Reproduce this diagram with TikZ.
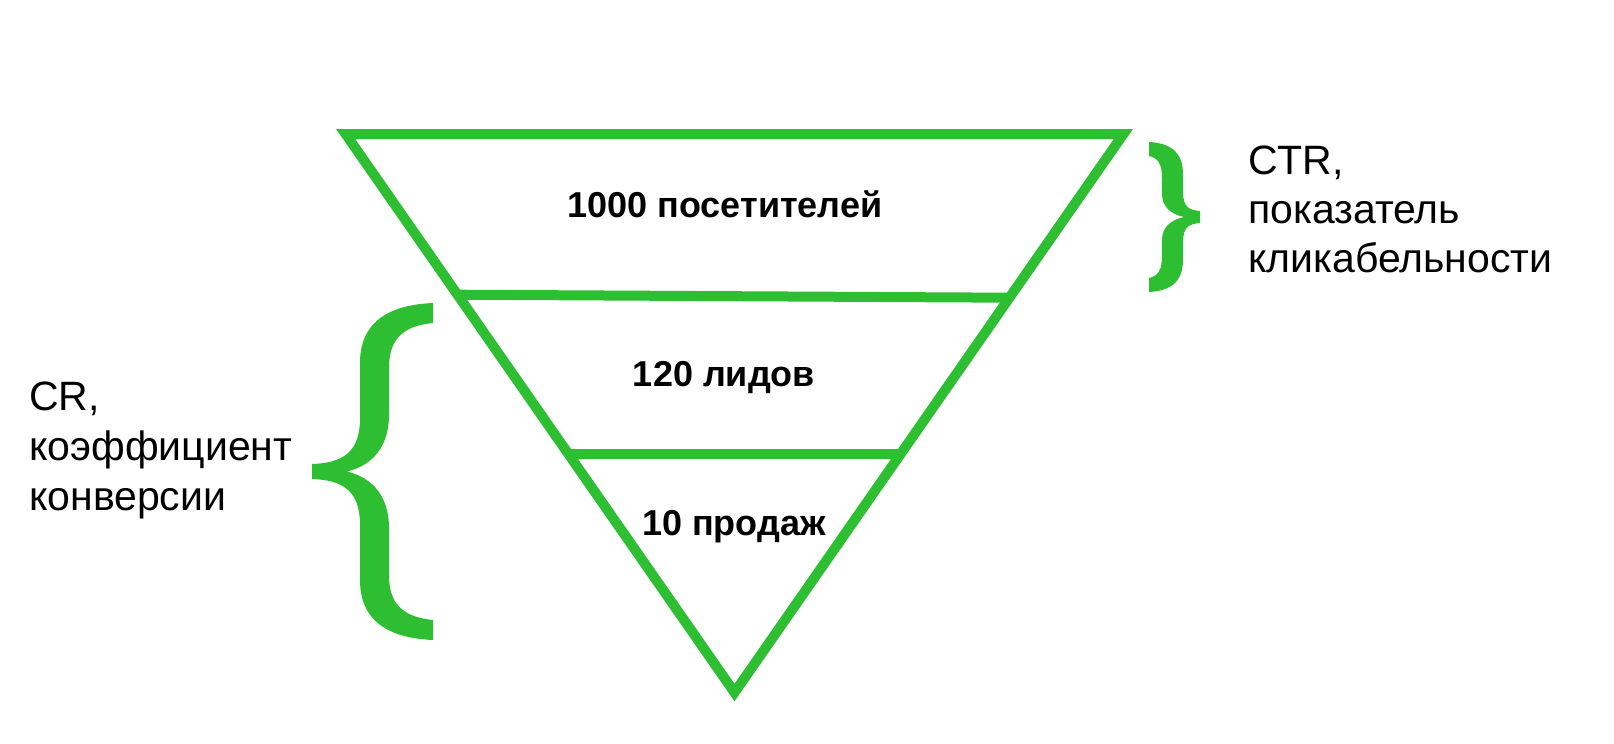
\documentclass[tikz,border=0pt]{standalone}
\usepackage{fontspec}
\setmainfont{Liberation Sans}
\definecolor{fgreen}{RGB}{45,190,50}
\tikzset{
  funnel/.style={draw=fgreen, line width=10pt, miter limit=20, line join=miter},
  divider/.style={draw=fgreen, line width=10pt},
  bracefill/.style={fill=fgreen, draw=none},
  stage/.style={inner sep=0pt, anchor=base, font=\bfseries\fontsize{36}{43}\selectfont},
  note/.style={inner sep=0pt, anchor=base west, font=\fontsize{41}{49}\selectfont}
}
\begin{document}
\begin{tikzpicture}[x=1pt,y=-1pt]
\useasboundingbox[fill=white] (0,0) rectangle (1614,744);
% funnel outline
\coordinate (tl) at (345.6,134);
\coordinate (tr) at (1123.4,134);
\coordinate (ap) at (734.5,692.5);
\draw[funnel] (tl) -- (tr) -- (ap) -- cycle;
% dividers
\coordinate (d1l) at (457.5,294.7);
\coordinate (d1r) at (1009.4,297.7);
\coordinate (d2l) at (568.4,454);
\coordinate (d2r) at (900.6,454);
\draw[divider] (d1l) -- (d1r);
\draw[divider] (d2l) -- (d2r);
% stage labels
\node[stage] (s1) at (725,217) {1000 посетителей};
\node[stage] (s2) at (724,386) {120 лидов};
\node[stage] (s3) at (734,535) {10 продаж};
% left brace
\begin{scope}[shift={(312,303)}]
\fill[bracefill] (121,0) .. controls (75,2) and (48,20) .. (48,60)
  -- (48,115) .. controls (48,150) and (30,160) .. (0,161)
  -- (0,176) .. controls (30,177) and (48,187) .. (48,222)
  -- (48,277) .. controls (48,317) and (75,335) .. (121,337)
  -- (121,317) .. controls (90,314) and (77,300) .. (77,272)
  -- (77,225) .. controls (77,195) and (62,175) .. (35,168.5)
  .. controls (62,162) and (77,142) .. (77,112)
  -- (77,65) .. controls (77,37) and (90,23) .. (121,20) -- cycle;
\end{scope}
% right brace
\begin{scope}[shift={(1200,142)}, x=-1pt]
\fill[bracefill] (51,0) .. controls (30,1) and (17,10) .. (17,32)
  -- (17,50) .. controls (17,66) and (10,68) .. (0,69)
  -- (0,81) .. controls (10,82) and (17,84) .. (17,100)
  -- (17,118) .. controls (17,140) and (30,149) .. (51,150)
  -- (51,136) .. controls (42,134) and (38,128) .. (38,114)
  -- (38,98) .. controls (38,86) and (30,78) .. (16,75)
  .. controls (30,72) and (38,64) .. (38,52)
  -- (38,36) .. controls (38,22) and (42,16) .. (51,14) -- cycle;
\end{scope}
% notes
\node[note] (r1) at (1248,174) {CTR,};
\node[note] (r2) at (1248,223) {показатель};
\node[note] (r3) at (1248,272) {кликабельности};
\node[note] (l1) at (29,410) {CR,};
\node[note] (l2) at (29,460) {коэффициент};
\node[note] (l3) at (29,510) {конверсии};
\end{tikzpicture}
\end{document}
